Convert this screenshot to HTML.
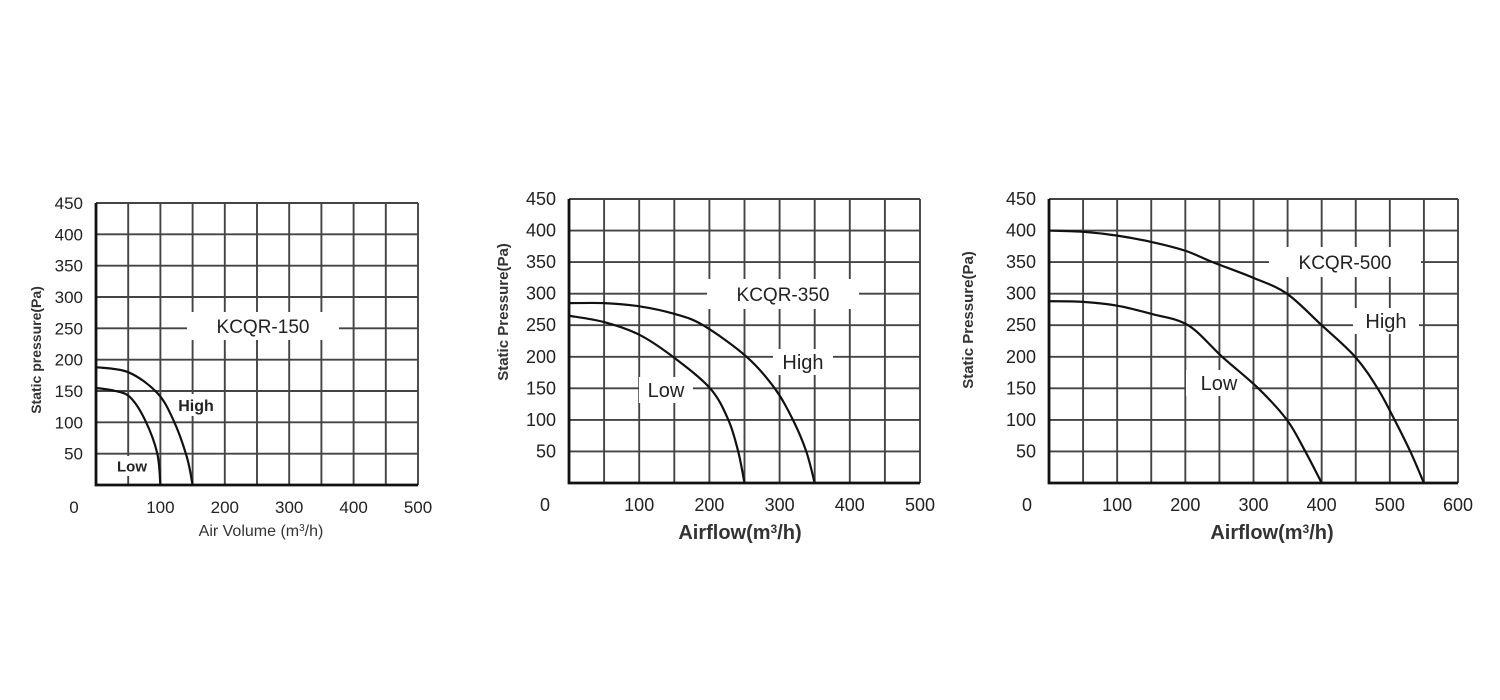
<!DOCTYPE html>
<html><head><meta charset="utf-8"><style>
html,body{margin:0;padding:0;background:#fff;}
svg{display:block;font-family:"Liberation Sans",sans-serif;}
</style></head><body>
<svg id="root" width="1500" height="700" viewBox="0 0 1500 700"></svg>
<script>
// ---- data ----
const yTicks = [0,50,100,150,200,250,300,350,400,450];
const xTicks1 = [0,100,200,300,400,500];
const xTicks2 = [0,100,200,300,400,500];
const xTicks3 = [0,100,200,300,400,500,600];
const highFlow1 = [0,50,95,120,141,150];
const highPres1 = [188,180,147,104,45,0];
const lowFlow1 = [0,30,53,76,95,100];
const lowPres1 = [155,150,140,104,51,0];
const highFlow2 = [0,50,100,150,191,253,293,319,338,350];
const highPres2 = [285,285,280,268,250,200,150,100,50,0];
const lowFlow2 = [0,50,100,148,201,227,241,250];
const lowPres2 = [265,255,235,200,150,100,50,0];
const highFlow3 = [0,50,100,150,200,240,300,349,400,449,482,507,530,550];
const highPres3 = [400,398,392,382,368,350,325,300,250,200,150,100,50,0];
const lowFlow3 = [0,50,100,150,204,254,307,349,376,400];
const lowPres3 = [288,287,281,268,250,200,150,100,50,0];

const NS="http://www.w3.org/2000/svg";
const root=document.getElementById('root');
function mk(tag,attrs,parent){const e=document.createElementNS(NS,tag);for(const k in attrs)e.setAttribute(k,attrs[k]);(parent||root).appendChild(e);return e;}

function smooth(pts){
  let d=`M${pts[0][0]},${pts[0][1]}`;
  for(let i=0;i<pts.length-1;i++){
    const p0=pts[Math.max(i-1,0)],p1=pts[i],p2=pts[i+1],p3=pts[Math.min(i+2,pts.length-1)];
    const c1x=p1[0]+(p2[0]-p0[0])/6,c1y=p1[1]+(p2[1]-p0[1])/6;
    const c2x=p2[0]-(p3[0]-p1[0])/6,c2y=p2[1]-(p3[1]-p1[1])/6;
    d+=` C${c1x},${c1y} ${c2x},${c2y} ${p2[0]},${p2[1]}`;
  }
  return d;
}

function chart(cfg){
  const g=mk('g',{});
  
  
  const xMax=cfg.xTicks[cfg.xTicks.length-1];
  const X=v=>cfg.L+(cfg.R-cfg.L)*v/xMax;
  const Y=v=>cfg.B-(cfg.B-cfg.T)*v/450;
  for(let v=50;v<=xMax;v+=50){
    const l=mk('line',{x1:X(v),x2:X(v),y1:cfg.T,y2:cfg.B,stroke:'#444','stroke-width':1.9},g);
    
    
  }
  for(let v=50;v<=450;v+=50){
    const l=mk('line',{x1:cfg.L,x2:cfg.R,y1:Y(v),y2:Y(v),stroke:'#444','stroke-width':1.9},g);
    
    
  }
  const ax=mk('path',{d:`M${cfg.L},${cfg.T} V${cfg.B} H${cfg.R}`,fill:'none',stroke:'#111','stroke-width':2.8},g);
  
  
  cfg.labels.forEach(lb=>{
    const r=mk('rect',{x:lb.x-lb.w/2,y:lb.y-lb.h/2,width:lb.w,height:lb.h,fill:'#fff'},g);
    
    
  });
  [[cfg.hf,cfg.hp,'high-curve'],[cfg.lf,cfg.lp,'low-curve']].forEach(([f,p,n])=>{
    const pts=f.map((v,i)=>[X(v),Y(p[i])]);
    const c=mk('path',{d:smooth(pts),fill:'none',stroke:'#111','stroke-width':2.2},g);
    
    
  });
  cfg.labels.forEach(lb=>{
    const t=mk('text',{x:lb.x,y:lb.y+lb.fs*0.36,'text-anchor':'middle','font-size':lb.fs,fill:'#222','font-weight':lb.bold?'bold':'normal'},g);
    t.textContent=lb.text;
    
    
  });
  yTicks.forEach(v=>{
    if(v===0)return;
    const t=mk('text',{x:cfg.L-13,y:Y(v)+6,'text-anchor':'end','font-size':cfg.fs,fill:'#222'},g);
    t.textContent=v;
    
    
  });
  cfg.xTicks.forEach(v=>{
    const t=mk('text',{x:v===0?cfg.zeroX:X(v),y:cfg.B+28,'text-anchor':'middle','font-size':cfg.fs,fill:'#222'},g);
    t.textContent=v;
    
    
  });
  const yt=mk('text',{x:0,y:0,transform:`translate(${cfg.ytx},${cfg.yty}) rotate(-90)`,'text-anchor':'middle','font-size':cfg.ytfs,fill:'#333','font-weight':'bold'},g);
  yt.textContent=cfg.ytitle;
  
  
  const xt=mk('text',{x:cfg.xtx,y:cfg.xty,'text-anchor':'middle','font-size':cfg.xtfs,fill:'#333','font-weight':cfg.xtbold?'bold':'normal'},g);
  xt.innerHTML=cfg.xtitle;
  
  
}

chart({name:'chart-kcqr-150',L:96,R:418,T:203,B:485,xTicks:xTicks1,hf:highFlow1,hp:highPres1,lf:lowFlow1,lp:lowPres1,fs:17,zeroX:74,
  ytitle:'Static pressure(Pa)',ytx:41,yty:350,ytfs:14,xtitle:'Air Volume (m<tspan font-size="10" dy="-5">3</tspan><tspan dy="5">/h)</tspan>',xtx:261,xty:536,xtfs:16,xtbold:false,
  labels:[{text:'KCQR-150',x:263,y:326,w:152,h:28,fs:19,dn:'model-title'},{text:'High',x:196,y:405,w:44,h:22,fs:16,bold:true,dn:'high-label'},{text:'Low',x:132,y:466,w:38,h:20,fs:15,bold:true,dn:'low-label'}]});
chart({name:'chart-kcqr-350',L:569,R:920,T:199,B:483,xTicks:xTicks2,hf:highFlow2,hp:highPres2,lf:lowFlow2,lp:lowPres2,fs:18,zeroX:545,
  ytitle:'Static Pressure(Pa)',ytx:508,yty:312,ytfs:15,xtitle:'Airflow(m<tspan font-size="12" dy="-6">3</tspan><tspan dy="6">/h)</tspan>',xtx:740,xty:539,xtfs:20,xtbold:true,
  labels:[{text:'KCQR-350',x:783,y:294,w:152,h:30,fs:19,dn:'model-title'},{text:'High',x:803,y:362,w:60,h:26,fs:20,dn:'high-label'},{text:'Low',x:666,y:390,w:54,h:26,fs:20,dn:'low-label'}]});
chart({name:'chart-kcqr-500',L:1049,R:1458,T:199,B:483,xTicks:xTicks3,hf:highFlow3,hp:highPres3,lf:lowFlow3,lp:lowPres3,fs:18,zeroX:1027,
  ytitle:'Static Pressure(Pa)',ytx:973,yty:320,ytfs:15,xtitle:'Airflow(m<tspan font-size="12" dy="-6">3</tspan><tspan dy="6">/h)</tspan>',xtx:1272,xty:539,xtfs:20,xtbold:true,
  labels:[{text:'KCQR-500',x:1345,y:262,w:152,h:30,fs:19,dn:'model-title'},{text:'High',x:1386,y:321,w:66,h:26,fs:20,dn:'high-label'},{text:'Low',x:1219,y:383,w:66,h:26,fs:20,dn:'low-label'}]});
</script>
</body></html>
